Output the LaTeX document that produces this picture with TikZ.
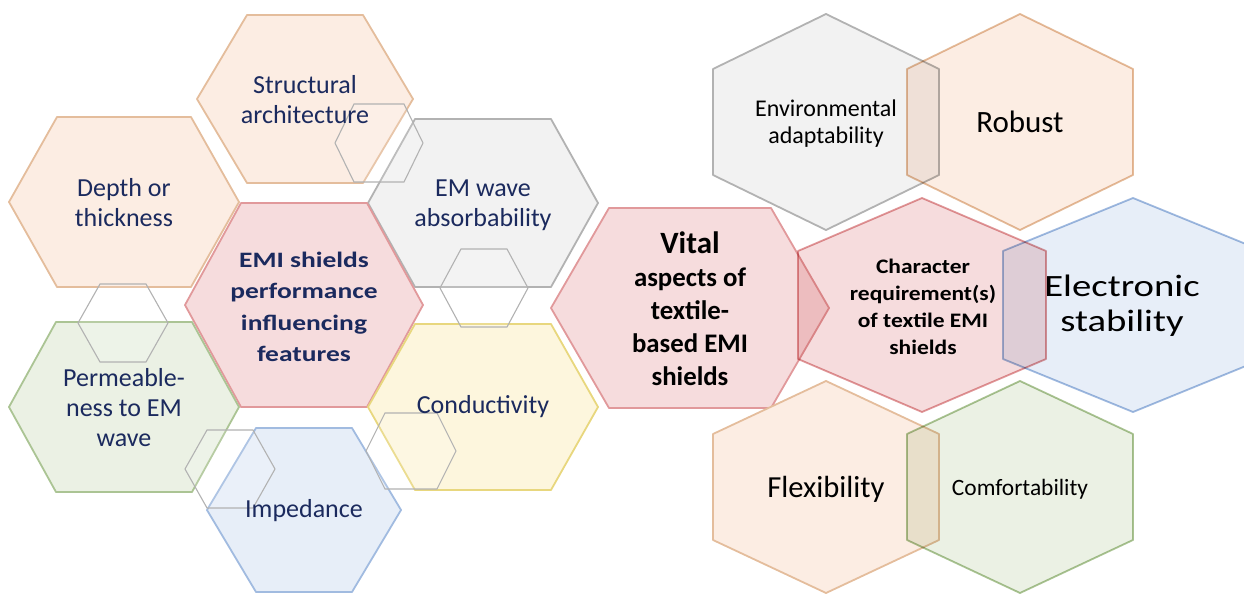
\documentclass[tikz,border=0pt]{standalone}
\usepackage{fontspec}
\setmainfont{Carlito}
\newfontfamily\widefont[FakeStretch=1.25]{Carlito}
\newfontfamily\semiwidefont[FakeStretch=1.14]{Carlito}

\definecolor{peachfill}{HTML}{FCEDE3}
\definecolor{peachline}{HTML}{E4BD9C}
\definecolor{redfill}{HTML}{F6DCDD}
\definecolor{redline}{HTML}{E1999B}
\definecolor{greyfill}{HTML}{F2F2F2}
\definecolor{greyline}{HTML}{B2B2B2}
\definecolor{yellowfill}{HTML}{FDF6DD}
\definecolor{yellowline}{HTML}{E8D77E}
\definecolor{greenfill}{HTML}{EBF1E4}
\definecolor{greenline}{HTML}{ABC494}
\definecolor{bluefill}{HTML}{E7EEF8}
\definecolor{blueline}{HTML}{A1BBE0}
\definecolor{navy}{HTML}{1B2A5E}

% flat topped hexagon: style, cx, cy, half width, half top edge, half height
\newcommand{\flathex}[6]{%
  \draw[#1] ({#2-#4},#3) -- ({#2-#5},{#3-#6}) -- ({#2+#5},{#3-#6}) -- ({#2+#4},#3)
    -- ({#2+#5},{#3+#6}) -- ({#2-#5},{#3+#6}) -- cycle;}
% pointy topped hexagon: style, cx, cy, half width, half height, side corner offset
\newcommand{\tallhex}[6]{%
  \draw[#1] (#2,{#3-#5}) -- ({#2+#4},{#3-#6}) -- ({#2+#4},{#3+#6}) -- (#2,{#3+#5})
    -- ({#2-#4},{#3+#6}) -- ({#2-#4},{#3-#6}) -- cycle;}

\tikzset{
  hexline/.style={line width=0.9pt, line join=round},
  peachhex/.style={hexline, fill=peachfill, draw=peachline},
  redhex/.style={hexline, fill=redfill, draw=redline},
  greyhex/.style={hexline, fill=greyfill, draw=greyline},
  yellowhex/.style={hexline, fill=yellowfill, draw=yellowline},
  greenhex/.style={hexline, fill=greenfill, draw=greenline},
  bluehex/.style={hexline, fill=bluefill, draw=blueline},
  linkhex/.style={line width=0.55pt, draw=greyline, fill=white, fill opacity=0.15},
  overlay/.style={blend mode=multiply},
  featuretext/.style={text=navy, align=center, font=\fontsize{13}{15}\selectfont},
  needtext/.style={text=black, align=center},
}

\begin{document}
\begin{tikzpicture}[x=0.5pt, y=-0.5pt]
\useasboundingbox (0,0) rectangle (1244,594);

% influencing features
\flathex{peachhex}{305}{99}{108}{58}{84}
\flathex{peachhex}{124}{202}{115}{67}{85}
\flathex{greyhex}{483}{203}{115}{68}{84}
\flathex{redhex}{304}{305}{119}{63}{102}
\flathex{greenhex}{124}{407}{115}{68}{85}
\flathex{yellowhex}{483}{407}{115}{68}{83}
\flathex{bluehex}{304}{510}{97}{48}{82}

% small links between the outer cells
\flathex{linkhex}{379}{143}{44}{25}{39}
\flathex{linkhex}{484}{288}{44}{23}{39}
\flathex{linkhex}{411}{451}{45}{26}{38}
\flathex{linkhex}{230}{469}{45}{23}{39}
\flathex{linkhex}{123}{323}{45}{23}{39}

\node[featuretext] (structural) at (305,100) {Structural\\architecture};
\node[featuretext] (depth) at (124,203) {Depth or\\thickness};
\node[featuretext] (absorb) at (483,205) {EM wave\\absorbability};
\node[featuretext, font=\widefont\bfseries\fontsize{11}{15.75}\selectfont] (emi) at (304,307)
  {EMI shields\\performance\\influencing\\features};
\node[featuretext] (permeable) at (124,408) {Permeable-\\ness to EM\\wave};
\node[featuretext] (conduct) at (483,407) {Conductivity};
\node[featuretext] (impedance) at (304,511) {Impedance};

% vital aspects in the middle
\flathex{redhex}{690}{308}{139}{81}{100}
\node[needtext, font=\bfseries\fontsize{13.4}{16.5}\selectfont] (vital) at (690,309)
  {{\fontsize{15.5}{16.5}\selectfont Vital}\\aspects of\\textile-\\based EMI\\shields};

% character requirements
\tallhex{greyhex}{826}{122}{113}{108}{53}
\tallhex{peachhex, overlay}{1020}{122}{113}{108}{53}
\tallhex{redhex, overlay}{922}{305}{124}{107}{54}
\tallhex{bluehex, overlay}{1133}{305}{130}{107}{54}
\tallhex{peachhex}{826}{487}{113}{106}{53}
\tallhex{greenhex, overlay}{1020}{487}{113}{106}{53}

\node[needtext, font=\fontsize{12}{13.5}\selectfont] (environ) at (826,124)
  {Environmental\\adaptability};
\node[needtext, font=\fontsize{15.5}{17.5}\selectfont] (robust) at (1020,122) {Robust};
\node[needtext, font=\semiwidefont\bfseries\fontsize{10.3}{13.5}\selectfont] (character) at (923,307)
  {Character\\requirement(s)\\of textile EMI\\shields};
\node[needtext, font=\widefont\fontsize{15.5}{17.5}\selectfont] (electronic) at (1122,306)
  {Electronic\\stability};
\node[needtext, font=\fontsize{15.3}{17}\selectfont] (flexibility) at (826,489) {Flexibility};
\node[needtext, font=\fontsize{11.7}{13.5}\selectfont] (comfort) at (1020,489) {Comfortability};

\end{tikzpicture}
\end{document}
